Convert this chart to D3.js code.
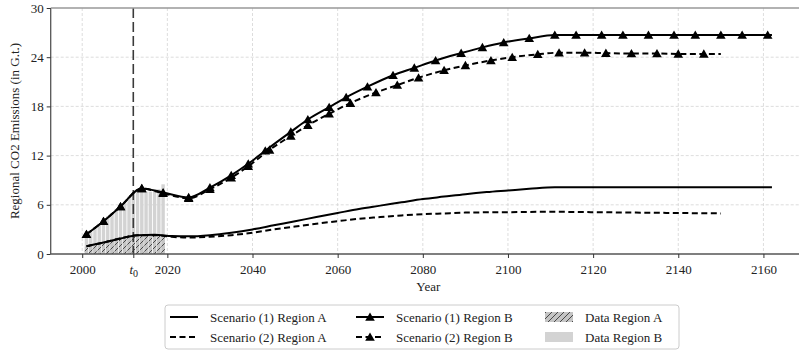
<!DOCTYPE html>
<html><head><meta charset="utf-8">
<script src="https://cdn.jsdelivr.net/npm/d3@7"></script>
<style>
body{margin:0;background:#fff;}
svg text{font-family:"Liberation Serif","DejaVu Serif",serif;}
</style></head>
<body><svg id="c" width="799" height="353"></svg>
<script>
// ---------- data ----------
const xTickYears = [2000, 2012, 2020, 2040, 2060, 2080, 2100, 2120, 2140, 2160];
const xTickLabels = ["2000", "t0", "2020", "2040", "2060", "2080", "2100", "2120", "2140", "2160"];
const yTicks = [0, 6, 12, 18, 24, 30];
const t0Year = 2012;

const dataYears = [2001,2002,2003,2004,2005,2006,2007,2008,2009,2010,2011,2012,2013,2014,2015,2016,2017,2018,2019];
const dataRegionA = [0.9,1.05,1.2,1.35,1.5,1.65,1.8,1.9,2.0,2.1,2.15,2.2,2.2,2.2,2.2,2.2,2.2,2.2,2.25];
const dataRegionB = [2.3,2.7,3.2,3.7,4.1,4.6,5.0,5.5,5.9,6.4,7.0,7.5,7.8,7.7,7.6,7.6,7.7,7.9,8.5];

const s1aYears = [2001,2005,2009,2013,2017,2021,2025,2030,2035,2040,2045,2050,2055,2060,2065,2070,2075,2080,2085,2090,2095,2100,2105,2111,2162];
const s1aValues = [0.95,1.4,1.9,2.3,2.35,2.2,2.15,2.3,2.6,3.0,3.5,4.0,4.5,5.0,5.5,5.9,6.3,6.7,7.0,7.3,7.55,7.75,7.95,8.15,8.15];

const s2aYears = [2001,2005,2009,2013,2017,2021,2025,2030,2035,2040,2045,2050,2055,2060,2065,2070,2075,2080,2085,2090,2100,2110,2120,2130,2140,2150];
const s2aValues = [0.95,1.4,1.9,2.3,2.3,2.1,2.0,2.1,2.3,2.6,3.0,3.35,3.7,4.0,4.3,4.5,4.7,4.85,4.95,5.05,5.1,5.15,5.1,5.05,5.0,4.95];

const s1bYears = [2001,2005,2009,2014,2019,2025,2030,2035,2039,2043,2049,2053,2058,2062,2067,2073,2078,2083,2089,2094,2099,2105,2111,2116,2122,2127,2133,2139,2144,2150,2155,2161];
const s1bValues = [2.4,4.0,5.8,8.0,7.5,6.9,8.1,9.6,11.0,12.6,14.9,16.4,17.9,19.1,20.4,21.8,22.7,23.6,24.5,25.2,25.8,26.3,26.7,26.7,26.7,26.7,26.7,26.7,26.7,26.7,26.7,26.7];
const s1bEnd = 2162;

const s2bYears = [2001,2005,2009,2014,2019,2025,2030,2035,2039,2044,2049,2053,2058,2063,2069,2074,2079,2085,2090,2096,2101,2107,2112,2118,2123,2129,2135,2140,2146];
const s2bValues = [2.4,4.0,5.8,8.0,7.4,6.8,7.9,9.3,10.7,12.7,14.4,15.7,17.1,18.4,19.7,20.6,21.5,22.4,23.0,23.6,24.0,24.35,24.55,24.55,24.5,24.45,24.45,24.4,24.4];
const s2bEnd = 2150;

const legendLabels = ["Scenario (1) Region A","Scenario (2) Region A","Scenario (1) Region B","Scenario (2) Region B","Data Region A","Data Region B"];
const yLabel = "Regional CO2 Emissions (in G.t.)";
const xLabel = "Year";

// ---------- layout ----------
const svg = d3.select("#c");
const L = 50.7, R = 806, T = 8, B = 254;
const x = d3.scaleLinear().domain([1992.6, 2170]).range([L, R]);
const y = d3.scaleLinear().domain([0, 30]).range([B, T]);

const defs = svg.append("defs");
const pat = defs.append("pattern").attr("id","hatch").attr("patternUnits","userSpaceOnUse")
  .attr("width",6).attr("height",6);
pat.append("rect").attr("width",6).attr("height",6).attr("fill","#c4c4c4");
pat.append("path").attr("d","M0,6 L6,0 M-1.5,1.5 L1.5,-1.5 M4.5,7.5 L7.5,4.5")
  .attr("stroke","#3a3a3a").attr("stroke-width",0.9);
defs.append("clipPath").attr("id","clip").append("rect")
  .attr("x",L).attr("y",T).attr("width",R-L).attr("height",B-T);

// grid
const gridX = [2000,2020,2040,2060,2080,2100,2120,2140,2160];
svg.append("g").selectAll("line").data(gridX).join("line")
  .attr("x1",d=>x(d)).attr("x2",d=>x(d)).attr("y1",T).attr("y2",B)
  .attr("stroke","#d4d4d4").attr("stroke-width",0.8).attr("stroke-dasharray","3,2");
svg.append("g").selectAll("line").data(yTicks.slice(1,-1)).join("line")
  .attr("y1",d=>y(d)).attr("y2",d=>y(d)).attr("x1",L).attr("x2",R)
  .attr("stroke","#d4d4d4").attr("stroke-width",0.8).attr("stroke-dasharray","3,2");

const plot = svg.append("g").attr("clip-path","url(#clip)");
const bw = (x(1) - x(0)) * 0.8;
plot.append("g").selectAll("rect").data(dataYears).join("rect")
  .attr("x",(d)=>x(d)-bw/2).attr("width",bw)
  .attr("y",(d,i)=>y(dataRegionB[i])).attr("height",(d,i)=>y(0)-y(dataRegionB[i]))
  .attr("fill","#d3d3d3");
plot.append("g").selectAll("rect").data(dataYears).join("rect")
  .attr("x",(d)=>x(d)-bw/2).attr("width",bw)
  .attr("y",(d,i)=>y(dataRegionA[i])).attr("height",(d,i)=>y(0)-y(dataRegionA[i]))
  .attr("fill","url(#hatch)");

// t0 line
plot.append("line").attr("x1",x(t0Year)).attr("x2",x(t0Year)).attr("y1",T).attr("y2",B)
  .attr("stroke","#3a3a3a").attr("stroke-width",1.6).attr("stroke-dasharray","10,4");

const line = d3.line().x(d=>x(d[0])).y(d=>y(d[1])).curve(d3.curveMonotoneX);
function pts(ys, vs, end){ const p = ys.map((yy,i)=>[yy,vs[i]]); if(end) p.push([end, vs[vs.length-1]]); return p; }

const series = [
  {p:pts(s1aYears,s1aValues), dash:null, m:null},
  {p:pts(s2aYears,s2aValues), dash:"6,3.5", m:null},
  {p:pts(s1bYears,s1bValues,s1bEnd), dash:null, m:[s1bYears,s1bValues]},
  {p:pts(s2bYears,s2bValues,s2bEnd), dash:"6,3.5", m:[s2bYears,s2bValues]}
];
const tri = d3.symbol().type(d3.symbolTriangle).size(40);
series.forEach(s=>{
  plot.append("path").attr("d",line(s.p)).attr("fill","none").attr("stroke","#000")
    .attr("stroke-width",2).attr("stroke-dasharray",s.dash);
  if(s.m){
    plot.append("g").selectAll("path").data(s.m[0]).join("path")
      .attr("d",tri).attr("transform",(d,i)=>`translate(${x(d)},${y(s.m[1][i])+1})`)
      .attr("fill","#000");
  }
});

// spines
svg.append("line").attr("x1",L).attr("x2",L).attr("y1",T).attr("y2",B).attr("stroke","#555").attr("stroke-width",1.3);
svg.append("line").attr("x1",L).attr("x2",R).attr("y1",B).attr("y2",B).attr("stroke","#555").attr("stroke-width",1.3);
svg.append("line").attr("x1",L).attr("x2",R).attr("y1",T).attr("y2",T).attr("stroke","#999").attr("stroke-width",1.3);

// axes
const xAxis = d3.axisBottom(x).tickValues(xTickYears).tickSize(4).tickPadding(4).tickFormat(()=>"");
const gx = svg.append("g").attr("transform",`translate(0,${B})`).call(xAxis);
gx.select(".domain").remove();
gx.selectAll(".tick line").attr("stroke","#333");
gx.selectAll(".tick").each(function(d,i){
  const t = d3.select(this).append("text").attr("y",20).attr("text-anchor","middle")
    .attr("fill","#222").attr("font-size",13);
  const lab = xTickLabels[i];
  if(lab === "t0"){
    t.append("tspan").attr("font-style","italic").text("t");
    t.append("tspan").attr("font-size",10).attr("dy",3).text("0");
  } else t.text(lab);
});
const yAxis = d3.axisLeft(y).tickValues(yTicks).tickSize(4).tickPadding(3);
const gy = svg.append("g").attr("transform",`translate(${L},0)`).call(yAxis);
gy.select(".domain").remove();
gy.selectAll(".tick line").attr("stroke","#333");
gy.selectAll(".tick text").attr("font-size",13).attr("fill","#222")
  .attr("font-family","Liberation Serif, serif");

svg.append("text").attr("transform",`translate(19,${(T+B)/2}) rotate(-90)`)
  .attr("text-anchor","middle").attr("font-size",13).attr("fill","#222").text(yLabel);
svg.append("text").attr("x",(L+R)/2).attr("y",291).attr("text-anchor","middle")
  .attr("font-size",13).attr("fill","#222").text(xLabel);

// legend
const lg = svg.append("g");
lg.append("rect").attr("x",165).attr("y",305).attr("width",514).attr("height",44).attr("rx",3)
  .attr("fill","#fff").attr("stroke","#ccc").attr("stroke-width",1);
const cols = [170, 356, 545];
const rows = [317, 337];
legendLabels.forEach((lab,i)=>{
  const cx = cols[Math.floor(i/2)], cy = rows[i%2];
  const g = lg.append("g");
  if(i<4){
    g.append("line").attr("x1",cx).attr("x2",cx+28).attr("y1",cy).attr("y2",cy)
      .attr("stroke","#000").attr("stroke-width",2).attr("stroke-dasharray", i%2===1?"6,3.5":null);
    if(i>=2) g.append("path").attr("d",tri).attr("transform",`translate(${cx+14},${cy+1})`).attr("fill","#000");
  } else {
    g.append("rect").attr("x",cx).attr("y",cy-5).attr("width",28).attr("height",10)
      .attr("fill", i===4?"url(#hatch)":"#d3d3d3");
  }
  g.append("text").attr("x",cx+40).attr("y",cy+4.5).attr("font-size",13).attr("fill","#222").text(lab);
});
</script></body></html>
